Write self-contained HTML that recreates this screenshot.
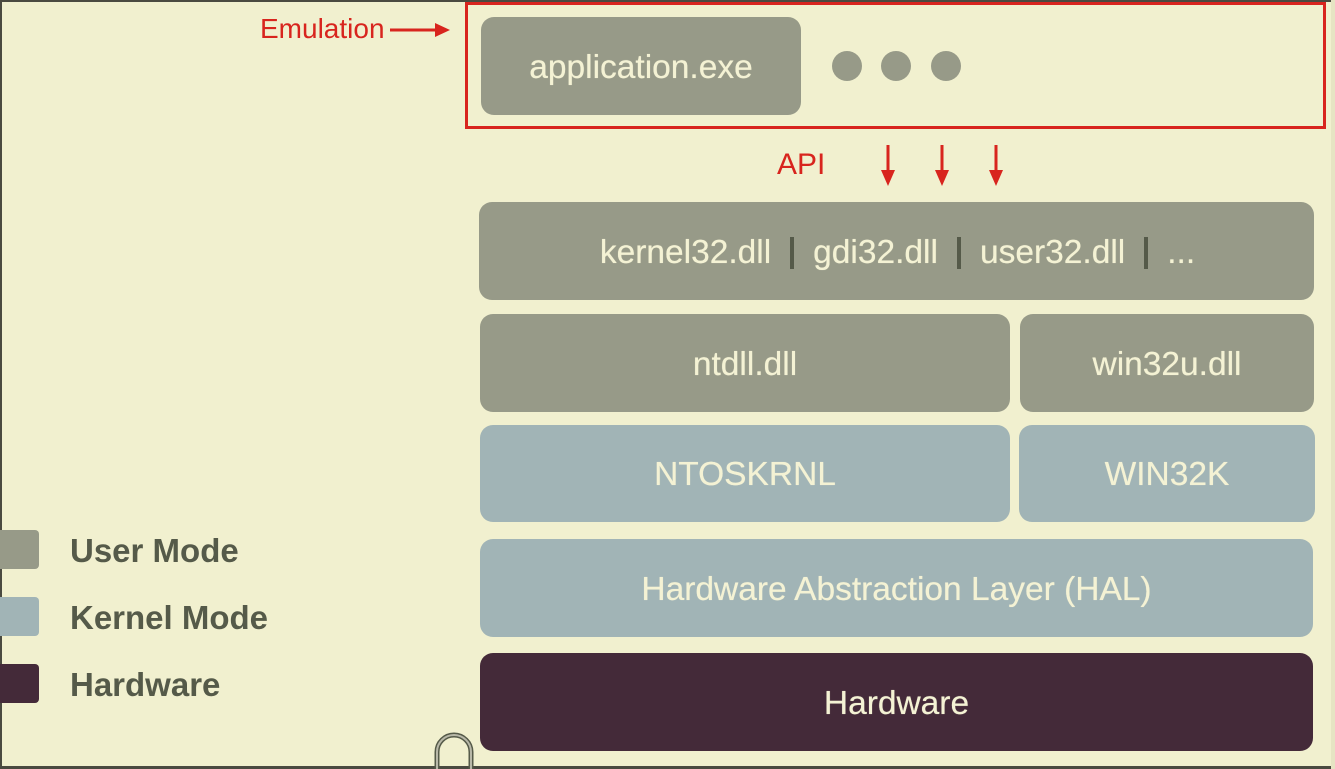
<!DOCTYPE html>
<html><head><meta charset="utf-8"><style>
html,body{margin:0;padding:0}
body{width:1335px;height:769px;background:#f1f0cf;position:relative;overflow:hidden;font-family:"Liberation Sans",Arial,sans-serif}
.b{position:absolute;border-radius:13px;display:flex;align-items:center;justify-content:center;color:#f4f2d4;font-size:33.5px;text-shadow:0 0 0.6px #f4f2d4;padding-top:3px;box-sizing:border-box}
.u{background:#979a88}
.k{background:#a1b4b6}
.h{background:#442a39}
.leg{position:absolute;left:0;width:39px;height:39px;border-radius:0 4px 4px 0}
.lt{position:absolute;left:70px;font-size:33px;font-weight:bold;color:#555a49;line-height:40px}
.sep{display:inline-block;width:4px;height:32px;background:#555a49;margin:0 19px;vertical-align:middle}
.dot{position:absolute;width:30px;height:30px;border-radius:50%;background:#979a88;top:51px}
</style></head><body>
<div style="position:absolute;left:0;top:0;width:1335px;height:2px;background:#4a4a40"></div>
<div style="position:absolute;left:0;top:0;width:2px;height:769px;background:#4a4a40"></div>
<div style="position:absolute;left:0;top:766px;width:1335px;height:3px;background:#4a4a40"></div>
<div style="position:absolute;left:1331px;top:0;width:4px;height:769px;background:#e6e4c3"></div>

<div style="position:absolute;left:465px;top:2px;width:855px;height:121px;border:3px solid #d8251e"></div>
<div class="b u" style="left:481px;top:17px;width:320px;height:98px">application.exe</div>
<div class="dot" style="left:832px"></div><div class="dot" style="left:881px"></div><div class="dot" style="left:931px"></div>

<div style="position:absolute;left:260px;top:13px;font-size:28px;color:#d8251e">Emulation</div>
<svg style="position:absolute;left:0;top:0" width="1335" height="769">
<line x1="390" y1="30" x2="437" y2="30" stroke="#d8251e" stroke-width="3"/>
<polygon points="450,30 435,23 435,37" fill="#d8251e"/>
<g fill="#d8251e" stroke="#d8251e">
<line x1="888" y1="145" x2="888" y2="172" stroke-width="3"/><polygon points="881,170 895,170 888,186" stroke="none"/>
<line x1="942" y1="145" x2="942" y2="172" stroke-width="3"/><polygon points="935,170 949,170 942,186" stroke="none"/>
<line x1="996" y1="145" x2="996" y2="172" stroke-width="3"/><polygon points="989,170 1003,170 996,186" stroke="none"/>
</g>
<path d="M437 769 V752 A17 17 0 0 1 471 752 V769" fill="none" stroke="#555a49" stroke-width="5"/>
<path d="M437 769 V752 A17 17 0 0 1 471 752 V769" fill="none" stroke="#b8b8a8" stroke-width="2"/>
</svg>
<div style="position:absolute;left:777px;top:148px;font-size:30px;color:#d8251e">API</div>

<div class="b u" style="left:479px;top:202px;width:835px;height:98px;padding-left:2px">kernel32.dll<span class="sep"></span>gdi32.dll<span class="sep"></span>user32.dll<span class="sep"></span>...</div>
<div class="b u" style="left:480px;top:314px;width:530px;height:98px">ntdll.dll</div>
<div class="b u" style="left:1020px;top:314px;width:294px;height:98px">win32u.dll</div>
<div class="b k" style="left:480px;top:425px;width:530px;height:97px">NTOSKRNL</div>
<div class="b k" style="left:1019px;top:425px;width:296px;height:97px">WIN32K</div>
<div class="b k" style="left:480px;top:539px;width:833px;height:98px">Hardware Abstraction Layer (HAL)</div>
<div class="b h" style="left:480px;top:653px;width:833px;height:98px">Hardware</div>

<div class="leg" style="top:530px;background:#979a88"></div>
<div class="leg" style="top:597px;background:#a1b4b6"></div>
<div class="leg" style="top:664px;background:#442a39"></div>
<div class="lt" style="top:531px">User Mode</div>
<div class="lt" style="top:598px">Kernel Mode</div>
<div class="lt" style="top:665px">Hardware</div>
</body></html>
